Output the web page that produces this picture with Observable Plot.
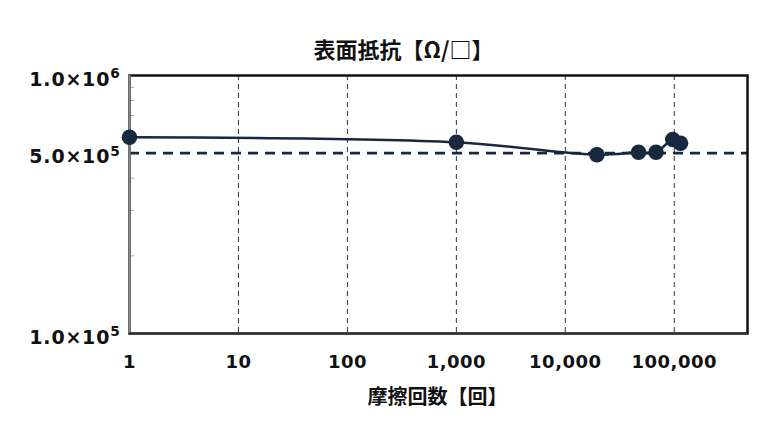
<!DOCTYPE html>
<html><head><meta charset="utf-8">
<script src="https://cdn.jsdelivr.net/npm/d3@7"></script>
<script src="https://cdn.jsdelivr.net/npm/@observablehq/plot@0.6"></script>
<style>body{margin:0;background:#fff}</style>
</head><body><div id="chart"></div>
<script>
const cycles = [1, 1000, 19500, 47000, 68000, 97000, 114000];
const resistance = [576000, 551000, 493000, 504000, 504000, 565000, 546000];
const xTicks = [1, 10, 100, 1000, 10000, 100000];
const yTicks = [1e5, 5e5, 1e6];
const yTickLabels = ["1.0×10^5", "5.0×10^5", "1.0×10^6"];
const yMinorTicks = [2e5, 3e5, 4e5, 6e5, 7e5, 8e5, 9e5];
const threshold = [5e5];
const title = "表面抵抗【Ω/□】";
const xLabel = "摩擦回数【回】";
const xDomain = [1, 470000];
const yDomain = [1e5, 1e6];

const data = cycles.map((c, i) => ({cycles: c, resistance: resistance[i]}));
const navy = "#17283f";
const numFont = "'DejaVu Sans', sans-serif";
const jpFont = "'Noto Sans CJK JP', sans-serif";

const plot = Plot.plot({
  width: 779, height: 436,
  marginTop: 75, marginBottom: 103, marginLeft: 129, marginRight: 32,
  style: {background: "#fff", fontFamily: numFont, color: "#111"},
  x: {type: "log", domain: xDomain},
  y: {type: "log", domain: yDomain},
  marks: [
    Plot.ruleX(xTicks.slice(1), {stroke: "#333", strokeWidth: 1, strokeDasharray: "5,4"}),
    Plot.ruleY(threshold, {stroke: navy, strokeWidth: 2.8, strokeDasharray: "10,7"}),
    Plot.axisY(yMinorTicks, {tickSize: 5, dx: 5, tickFormat: () => "", stroke: "#aaa", label: null}),
    Plot.axisY(yTicks, {tickSize: 0, tickPadding: 9, dy: 4, fontSize: 19, fontWeight: "bold",
      tickFormat: d => yTickLabels[yTicks.indexOf(d)], label: null}),
    Plot.axisX(xTicks, {tickSize: 0, tickPadding: 22, fontSize: 18, fontWeight: "bold",
      tickFormat: d3.format(","), label: null}),
    Plot.frame({stroke: "#111", strokeWidth: 2.5}),
    Plot.ruleX([xDomain[0]], {stroke: "#8c8c8c", strokeWidth: 2}),
    Plot.ruleY([yDomain[0]], {stroke: "#3a3a3a", strokeWidth: 2.5}),
    Plot.line(data, {x: "cycles", y: "resistance", curve: "catmull-rom", stroke: navy, strokeWidth: 2.5}),
    Plot.dot(data, {x: "cycles", y: "resistance", r: 7.8, fill: navy}),
    Plot.text([title], {frameAnchor: "top", dy: -33, dx: -35, fontSize: 22, fontWeight: "bold", fontFamily: jpFont, fill: "#111"}),
    Plot.text([xLabel], {frameAnchor: "bottom", dy: 70, dx: -1, fontSize: 20, fontWeight: "bold", fontFamily: jpFont, fill: "#111"})
  ]
});

d3.select(plot).selectAll('g[aria-label="y-axis tick label"] text')
  .attr("letter-spacing", "0.8px")
  .each(function() {
    const t = this.textContent;
    if (!t.includes("^")) return;
    const [base, exp] = t.split("^");
    const sel = d3.select(this);
    sel.text(null);
    sel.append("tspan").text(base);
    sel.append("tspan").attr("dy", "-0.55em").attr("font-size", "0.72em").text(exp);
  });
d3.select(plot).selectAll('g[aria-label="x-axis tick label"] text').attr("letter-spacing", "0.5px");

document.getElementById("chart").append(plot);
</script>
</body></html>
